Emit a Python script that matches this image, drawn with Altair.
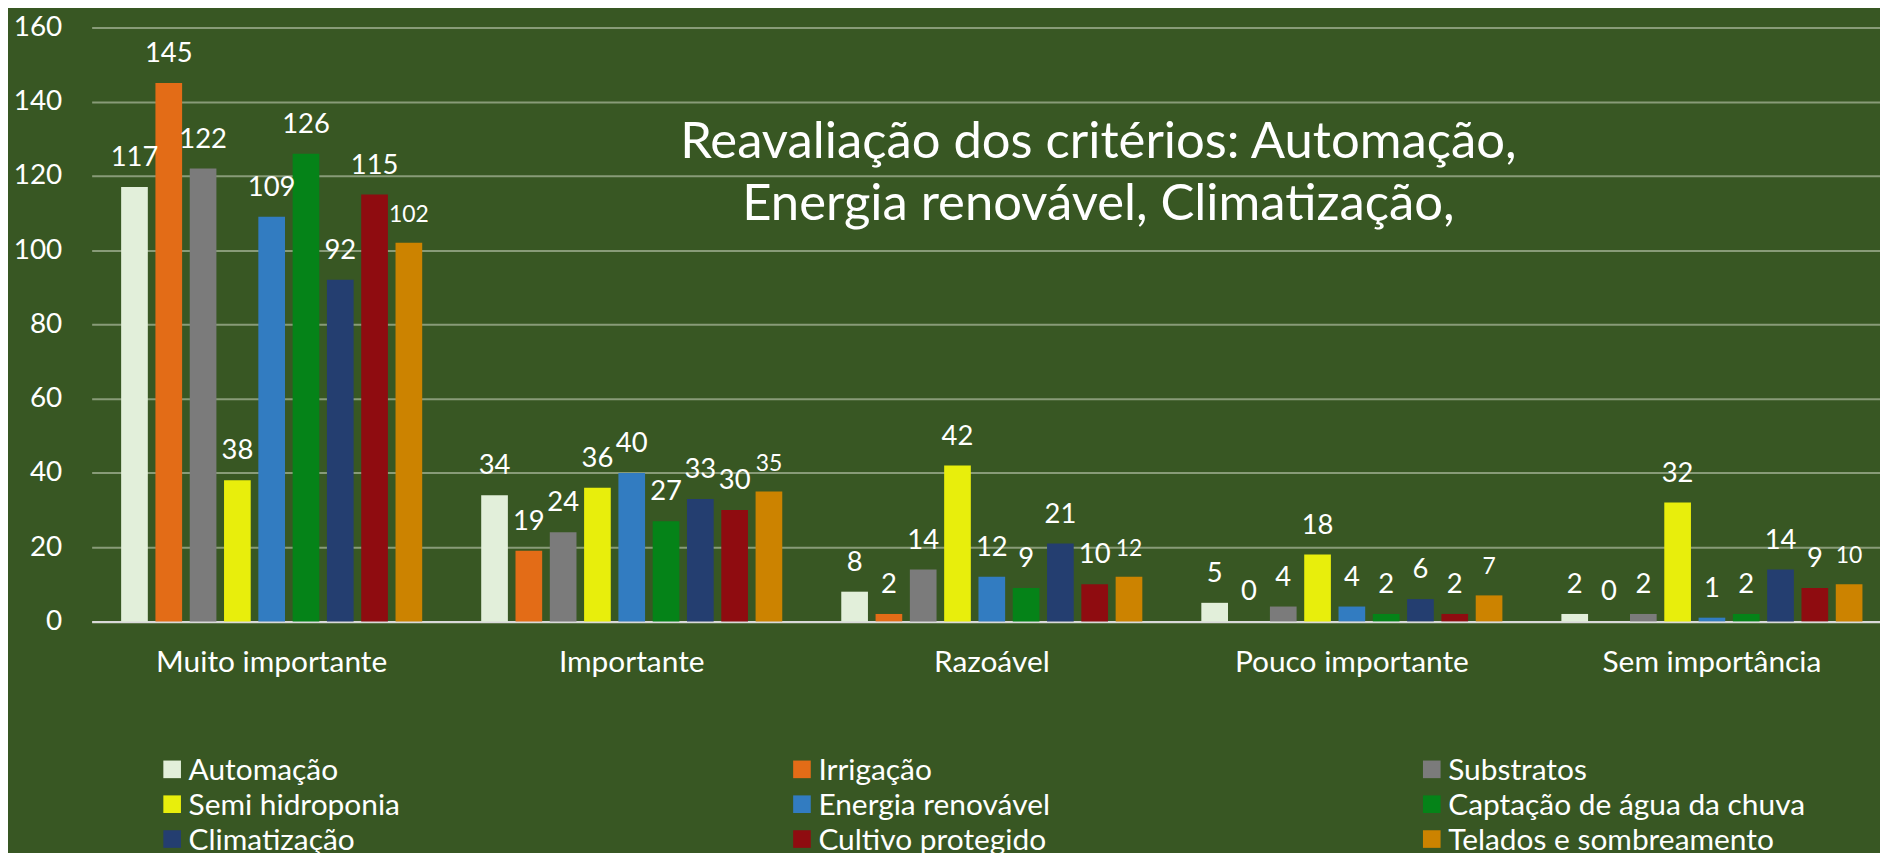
import altair as alt
import pandas as pd

categories = ["Muito importante", "Importante", "Razoável", "Pouco importante", "Sem importância"]
series = ["Automação", "Irrigação", "Substratos", "Semi hidroponia", "Energia renovável",
          "Captação de água da chuva", "Climatização", "Cultivo protegido", "Telados e sombreamento"]
colors = ["#e2efda", "#e36c17", "#7b7b7b", "#e8ee0c", "#327cc1",
          "#058318", "#243e70", "#8f0c10", "#cc8300"]

automacao = [117, 34, 8, 5, 2]
irrigacao = [145, 19, 2, 0, 0]
substratos = [122, 24, 14, 4, 2]
semi_hidroponia = [38, 36, 42, 18, 32]
energia_renovavel = [109, 40, 12, 4, 1]
captacao_agua = [126, 27, 9, 2, 2]
climatizacao = [92, 33, 21, 6, 14]
cultivo_protegido = [115, 30, 10, 2, 9]
telados = [102, 35, 12, 7, 10]

y_ticks = [0, 20, 40, 60, 80, 100, 120, 140, 160]
title_lines = ["Reavaliação dos critérios: Automação,", "Energia renovável, Climatização,"]

values_by_series = [automacao, irrigacao, substratos, semi_hidroponia, energia_renovavel,
                    captacao_agua, climatizacao, cultivo_protegido, telados]

rows = []
for s, vals in zip(series, values_by_series):
    for c, v in zip(categories, vals):
        rows.append({"category": c, "series": s, "value": v})
df = pd.DataFrame(rows)

legdf = pd.DataFrame({"series": series,
                      "col": [i % 3 for i in range(len(series))],
                      "row": [i // 3 for i in range(len(series))]})

FONT = "Lato"
W, H = 1794, 596.5

color_scale = alt.Scale(domain=series, range=colors)

base = alt.Chart(df).encode(
    x=alt.X("category:N", sort=categories, title=None,
            scale=alt.Scale(range=[0, 1808], paddingInner=0, paddingOuter=0),
            axis=alt.Axis(orient="bottom", labelAngle=0, labelFontSize=30, labelFont=FONT,
                          labelColor="#ffffff", labelPadding=50, labelBaseline="alphabetic",
                          labelLimit=600, ticks=False, tickSize=0, domainColor="#d9d9d9",
                          domainWidth=2, grid=False)),
    xOffset=alt.XOffset("series:N", sort=series,
                        scale=alt.Scale(paddingInner=0.222, paddingOuter=0.86)),
    y=alt.Y("value:Q", title=None, scale=alt.Scale(domain=[0, 160], nice=False),
            axis=alt.Axis(orient="left", values=y_ticks, labelFontSize=28, labelFont=FONT,
                          labelColor="#ffffff", labelPadding=30, ticks=False, tickSize=0,
                          domain=False, grid=True, gridColor="#889b78", gridWidth=2)),
)

bars = base.mark_bar().encode(
    color=alt.Color("series:N", scale=color_scale, legend=None)
)

labels = base.mark_text(baseline="alphabetic", dy=-21, font=FONT, color="#ffffff").encode(
    text=alt.Text("value:Q"),
    size=alt.condition(alt.datum.series == "Telados e sombreamento", alt.value(23), alt.value(27.5)),
)

main = alt.layer(bars, labels)

leg_base = alt.Chart(legdf).encode(
    x=alt.X("col:Q", scale=alt.Scale(domain=[0, 2], range=[80.85, 1345.85]), axis=None),
    y=alt.Y("row:Q", scale=alt.Scale(domain=[0, 2], range=[745.1, 815.1]), axis=None),
)
leg_sym = leg_base.mark_point(shape="square", filled=True, size=313, opacity=1).encode(
    color=alt.Color("series:N", scale=color_scale, legend=None)
)
leg_txt = leg_base.mark_text(align="left", baseline="alphabetic", dx=16.5, dy=10.5,
                             fontSize=30, font=FONT, color="#ffffff").encode(
    text="series:N"
)
legend = alt.layer(leg_sym, leg_txt)

chart = alt.layer(main, legend).resolve_scale(x="independent", y="independent").properties(
    width=W, height=H,
    background="#385723",
    autosize=alt.AutoSizeParams(type="none"),
    padding={"left": 84, "top": 17.7, "right": 2, "bottom": 230.8},
    title=alt.TitleParams(text=title_lines, fontSize=51, font=FONT, fontWeight="normal",
                          color="#ffffff", anchor="middle", frame="group", orient="top",
                          baseline="alphabetic", offset=0, dx=114, dy=258, lineHeight=62),
).configure_view(stroke=None)

chart.save("out.html", embed_options={"renderer": "svg", "actions": False})
